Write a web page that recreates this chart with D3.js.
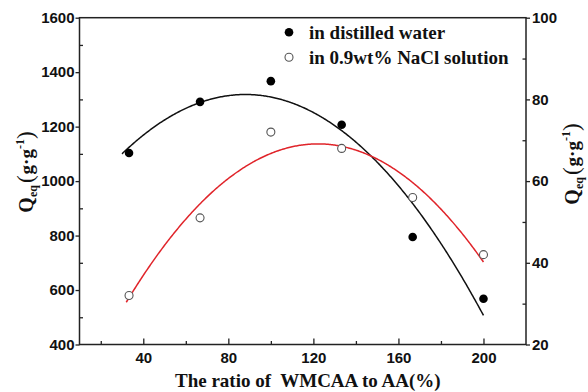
<!DOCTYPE html>
<html>
<head>
<meta charset="utf-8">
<script src="https://cdn.jsdelivr.net/npm/d3@7/dist/d3.min.js"></script>
<style>
  html, body { margin: 0; padding: 0; background: #fff; }
  svg { display: block; }
  .tick text { font-family: "Liberation Sans", Arial, sans-serif; font-weight: bold; font-size: 15px; fill: #111; }
  .serif { font-family: "Liberation Serif", "Times New Roman", serif; font-weight: bold; fill: #111; }
</style>
</head>
<body>
<script>
// Ratio of WMCAA to AA (%)
const ratios = [33.3, 66.7, 100, 133.3, 166.7, 200];
// Equilibrium absorbency in distilled water (left axis, g/g)
const waterQ = [1103, 1291, 1367, 1207, 795, 568];
// Equilibrium absorbency in 0.9wt% NaCl solution (right axis, g/g)
const salineQ = [32, 51, 72, 68, 56, 42];

const xTicks = [40, 80, 120, 160, 200];
const xMinorTicks = [20, 60, 100, 140, 180];
const leftTicks = [400, 600, 800, 1000, 1200, 1400, 1600];
const leftMinorTicks = [500, 700, 900, 1100, 1300, 1500];
const rightTicks = [20, 40, 60, 80, 100];
const rightMinorTicks = [30, 50, 70, 90];

const W = 588, H = 392;
const plot = { left: 79.5, right: 526, top: 17.7, bottom: 344.5 };

const svg = d3.select("body").append("svg").attr("width", W).attr("height", H);

const x = d3.scaleLinear().domain([10, 220]).range([plot.left, plot.right]);
const yL = d3.scaleLinear().domain([400, 1600]).range([plot.bottom, plot.top]);
const yR = d3.scaleLinear().domain([20, 100]).range([plot.bottom, plot.top]);

// Least-squares quadratic fit y = a + b x + c x^2
function quadFit(xs, ys) {
  const n = xs.length;
  let s = [0, 0, 0, 0, 0], t = [0, 0, 0];
  for (let i = 0; i < n; i++) {
    let p = 1;
    for (let k = 0; k < 5; k++) { s[k] += p; if (k < 3) t[k] += ys[i] * p; p *= xs[i]; }
  }
  const M = [[s[0], s[1], s[2], t[0]], [s[1], s[2], s[3], t[1]], [s[2], s[3], s[4], t[2]]];
  for (let i = 0; i < 3; i++) {
    for (let j = i + 1; j < 3; j++) {
      const f = M[j][i] / M[i][i];
      for (let k = i; k < 4; k++) M[j][k] -= f * M[i][k];
    }
  }
  const c = [0, 0, 0];
  for (let i = 2; i >= 0; i--) {
    let v = M[i][3];
    for (let k = i + 1; k < 3; k++) v -= M[i][k] * c[k];
    c[i] = v / M[i][i];
  }
  return xv => c[0] + c[1] * xv + c[2] * xv * xv;
}

const g = svg.append("g");
const fmt = d3.format("d");

// Axes
const axisColor = "#222";
function styleAxis(sel) {
  sel.select(".domain").remove();
  sel.selectAll(".tick line").attr("stroke", axisColor).attr("stroke-width", 1.3);
}

g.append("g").attr("transform", `translate(0,${plot.bottom})`)
  .call(d3.axisBottom(x).tickValues(xTicks).tickFormat(fmt).tickSizeInner(-6).tickSizeOuter(0).tickPadding(8))
  .call(styleAxis);
g.append("g").attr("transform", `translate(0,${plot.bottom})`)
  .call(d3.axisBottom(x).tickValues(xMinorTicks).tickSizeInner(-3.5).tickSizeOuter(0).tickFormat(""))
  .call(styleAxis);

g.append("g").attr("transform", `translate(${plot.left},0)`)
  .call(d3.axisLeft(yL).tickValues(leftTicks).tickFormat(fmt).tickSizeInner(4).tickSizeOuter(0).tickPadding(1))
  .call(styleAxis);
g.append("g").attr("transform", `translate(${plot.left},0)`)
  .call(d3.axisRight(yL).tickValues(leftMinorTicks).tickSizeInner(3.5).tickSizeOuter(0).tickFormat(""))
  .call(styleAxis);

g.append("g").attr("transform", `translate(${plot.right},0)`)
  .call(d3.axisRight(yR).tickValues(rightTicks).tickFormat(fmt).tickSizeInner(4).tickSizeOuter(0).tickPadding(2))
  .call(styleAxis);
g.append("g").attr("transform", `translate(${plot.right},0)`)
  .call(d3.axisLeft(yR).tickValues(rightMinorTicks).tickSizeInner(3.5).tickSizeOuter(0).tickFormat(""))
  .call(styleAxis);

// Frame
g.append("rect")
  .attr("x", plot.left).attr("y", plot.top)
  .attr("width", plot.right - plot.left).attr("height", plot.bottom - plot.top)
  .attr("fill", "none").attr("stroke", axisColor).attr("stroke-width", 1.5);

// Fitted curves
const waterFit = quadFit(ratios, waterQ);
const salineFit = quadFit(ratios, salineQ);
const waterCurve = d3.range(30, 200.01, 0.5).map(v => [v, waterFit(v)]);
const salineCurve = d3.range(32, 200.01, 0.5).map(v => [v, salineFit(v)]);

g.append("path").datum(waterCurve)
  .attr("fill", "none").attr("stroke", "#111").attr("stroke-width", 1.5)
  .attr("d", d3.line().x(d => x(d[0])).y(d => yL(d[1])));
g.append("path").datum(salineCurve)
  .attr("fill", "none").attr("stroke", "#e0242a").attr("stroke-width", 1.5)
  .attr("d", d3.line().x(d => x(d[0])).y(d => yR(d[1])));

// Data points
g.selectAll(".water").data(ratios).join("circle")
  .attr("cx", (d, i) => x(d)).attr("cy", (d, i) => yL(waterQ[i]))
  .attr("r", 4.3).attr("fill", "#000");
g.selectAll(".saline").data(ratios).join("circle")
  .attr("cx", (d, i) => x(d)).attr("cy", (d, i) => yR(salineQ[i]))
  .attr("r", 4).attr("fill", "#fff").attr("stroke", "#555").attr("stroke-width", 1.1);

// Legend
const legend = g.append("g");
legend.append("circle").attr("cx", 289).attr("cy", 32.3).attr("r", 4.3).attr("fill", "#000");
legend.append("circle").attr("cx", 289).attr("cy", 57.3).attr("r", 4).attr("fill", "#fff")
  .attr("stroke", "#555").attr("stroke-width", 1.1);
legend.append("text").attr("class", "serif").attr("x", 309).attr("y", 38.5)
  .attr("font-size", 19).text("in distilled water");
legend.append("text").attr("class", "serif").attr("x", 309).attr("y", 63.5)
  .attr("font-size", 19).text("in 0.9wt% NaCl solution");

// X axis title
g.append("text").attr("class", "serif").attr("x", 175).attr("y", 387)
  .attr("font-size", 19).style("white-space", "pre")
  .text("The ratio of  WMCAA to AA(%)");

// Y axis titles
function yTitle(tx, ty) {
  const t = g.append("text").attr("class", "serif")
    .attr("transform", `translate(${tx},${ty}) rotate(-90)`)
    .attr("text-anchor", "middle");
  t.append("tspan").attr("font-size", 20).text("Q");
  t.append("tspan").attr("font-size", 12).attr("dy", 4).text("eq");
  t.append("tspan").attr("font-size", 23).attr("font-weight", "normal").attr("dy", -4).attr("dx", 2).text("(");
  t.append("tspan").attr("font-size", 19).attr("dx", 1).text("g·g");
  t.append("tspan").attr("font-size", 12).attr("dy", -9).text("-1");
  t.append("tspan").attr("font-size", 23).attr("font-weight", "normal").attr("dy", 9).text(")");
}
yTitle(33, 172);
yTitle(579, 164);
</script>
</body>
</html>
